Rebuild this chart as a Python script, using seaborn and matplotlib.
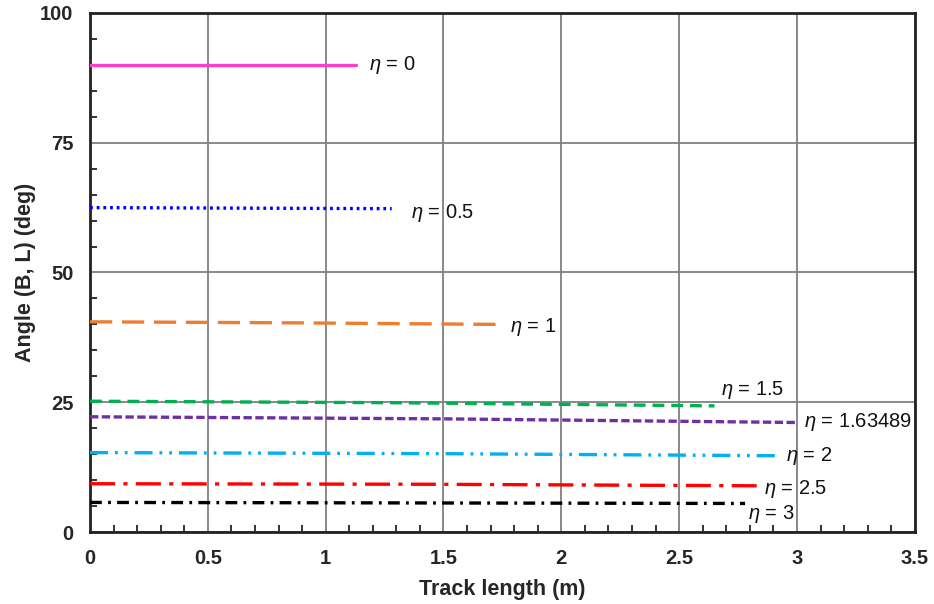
import matplotlib
matplotlib.use("Agg")
import matplotlib.pyplot as plt
import seaborn as sns
import pandas as pd
from matplotlib.ticker import MultipleLocator, FuncFormatter

# ---- data ----
eta_labels = ["0", "0.5", "1", "1.5", "1.63489", "2", "2.5", "3"]
track_end = [1.13, 1.28, 1.73, 2.65, 3.00, 2.91, 2.84, 2.78]
angle_start = [90.0, 62.5, 40.5, 25.2, 22.2, 15.3, 9.3, 5.7]
angle_mid = [90.0, 62.4, 40.3, 24.9, 21.8, 15.1, 9.2, 5.6]
angle_end = [90.0, 62.3, 40.0, 24.3, 21.1, 14.7, 8.9, 5.5]

colors = ["#FF3FCC", "#0000FF", "#ED7D31", "#00B050", "#7030A0", "#00B0F0", "#FF0000", "#000000"]
dash_patterns = ["", (2.0, 2.8), (16, 7), (8.5, 5), (6, 2.5),
                 (13, 5, 2, 5, 2, 5), (18, 6, 3, 6), (8.5, 4.5, 2, 4.5)]
label_offsets = [(13, 0), (19, -4), (12, -3), (7, 16), (7, 0), (10, 0), (5, -3), (3, -11)]

rows = []
for lab, xe, a0, am, a1 in zip(eta_labels, track_end, angle_start, angle_mid, angle_end):
    for x, y in zip([0.0, xe / 2, xe], [a0, am, a1]):
        rows.append({"eta": lab, "track": x, "angle": y})
df = pd.DataFrame(rows)

sns.set_style("white")
plt.rcParams["font.family"] = ["Liberation Sans", "DejaVu Sans"]
plt.rcParams["mathtext.fontset"] = "custom"
plt.rcParams["mathtext.rm"] = "Liberation Sans"
plt.rcParams["mathtext.it"] = "Liberation Sans:italic"
plt.rcParams["lines.scale_dashes"] = False

fig = plt.figure(figsize=(9.34, 6.04), dpi=100)
ax = fig.add_axes([0.0964, 0.1192, 0.883, 0.8593])

sns.lineplot(data=df, x="track", y="angle", hue="eta", style="eta",
             hue_order=eta_labels, style_order=eta_labels,
             palette=dict(zip(eta_labels, colors)),
             dashes=dict(zip(eta_labels, dash_patterns)),
             linewidth=2.4, legend=False, sort=False, ax=ax, zorder=3)

for lab, xe, a1, off in zip(eta_labels, track_end, angle_end, label_offsets):
    ax.annotate(r"$\eta$ = " + lab, xy=(xe, a1), xytext=off,
                textcoords="offset pixels", ha="left", va="center",
                fontsize=14.5, color="#111111", zorder=4)

ax.set_xlim(0, 3.5)
ax.set_ylim(0, 100)
ax.xaxis.set_major_locator(MultipleLocator(0.5))
ax.xaxis.set_minor_locator(MultipleLocator(0.1))
ax.yaxis.set_major_locator(MultipleLocator(25))
ax.yaxis.set_minor_locator(MultipleLocator(5))
ax.xaxis.set_major_formatter(FuncFormatter(lambda v, p: f"{v:g}"))
ax.grid(True, which="major", color="#808080", linewidth=1.3, zorder=1)
ax.tick_params(which="major", length=0, labelsize=14.5, pad=12)
ax.tick_params(which="minor", direction="in", length=5, width=1.3,
               bottom=True, left=True, top=False, right=False, color="#222222")
for lbl in ax.get_xticklabels() + ax.get_yticklabels():
    lbl.set_fontweight("bold")
for s in ax.spines.values():
    s.set_color("#222222")
    s.set_linewidth(2)
    s.set_visible(True)
ax.set_xlabel("Track length (m)", fontsize=15.5, fontweight="bold", labelpad=8)
ax.set_ylabel("Angle (B, L) (deg)", fontsize=15.5, fontweight="bold", labelpad=3)

fig.savefig("out.png", dpi=100)
